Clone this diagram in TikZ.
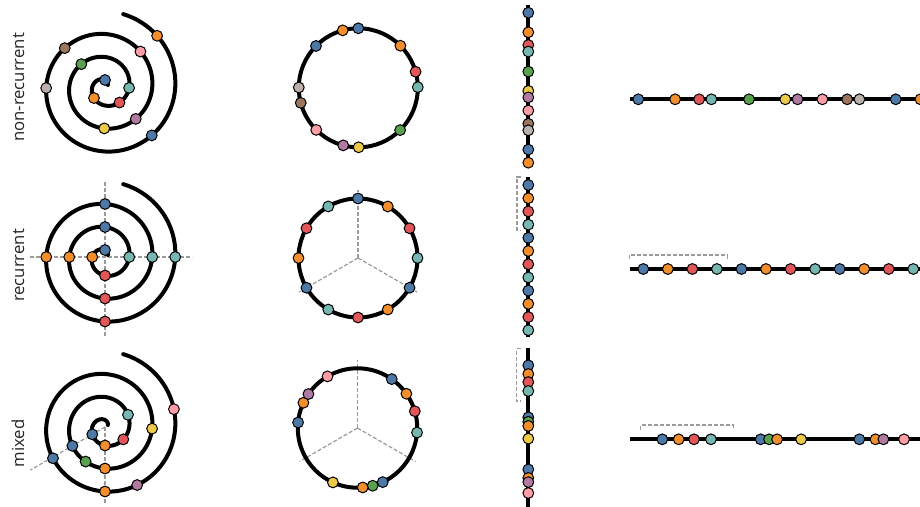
\documentclass[tikz,border=0pt]{standalone}
\usepackage{fontspec}
\setmainfont{Open Sans}
\definecolor{cbl}{HTML}{4E79A7}
\definecolor{cor}{HTML}{F28E2B}
\definecolor{cre}{HTML}{E15759}
\definecolor{cte}{HTML}{76B7B2}
\definecolor{cgr}{HTML}{59A14F}
\definecolor{cye}{HTML}{EDC948}
\definecolor{cpu}{HTML}{B07AA1}
\definecolor{cpi}{HTML}{FF9DA7}
\definecolor{cbr}{HTML}{9C755F}
\definecolor{cgy}{HTML}{BAB0AC}
\definecolor{guidegray}{HTML}{9A9A9A}
\begin{document}
\begin{tikzpicture}[x=1pt,y=-1pt,
  dotn/.style={circle, draw=black, line width=1pt, inner sep=0pt, minimum size=10.8pt},
  heavy/.style={line width=4pt, black},
  guide/.style={guidegray, line width=1.2pt, dash pattern=on 4pt off 2pt},
  lab/.style={rotate=90, anchor=base, font=\fontsize{16.7}{20}\selectfont, text=black!85}]
\useasboundingbox (0,0) rectangle (920,506);

% labels
\node[lab] (lab1) at (24,87.5) {non-recurrent};
\node[lab] (lab2) at (24,265.5) {recurrent};
\node[lab] (lab3) at (24,443.5) {mixed};

% guides
\draw[guide] (105,182) -- (105,337);
\draw[guide] (30,257) -- (192,257);
\draw[guide] (105,427) -- (105,504);
\draw[guide] (105,427) -- (30.5,470);
\draw[guide] (358,258) -- (358,190);
\draw[guide] (358,258) -- (299.1,292);
\draw[guide] (358,258) -- (416.9,292);
\draw[guide] (357.5,428) -- (357.5,360);
\draw[guide] (357.5,428) -- (299.5,461.5);
\draw[guide] (357.5,428) -- (415.5,461.5);
% brackets
\draw[guide] (520.7,177) -- (517,177) -- (517,230.7) -- (520.7,230.7);
\draw[guide] (629.3,259) -- (629.3,255) -- (727.3,255) -- (727.3,259);
\draw[guide] (520.7,348.7) -- (516.7,348.7) -- (516.7,401) -- (520.7,401);
\draw[guide] (640.7,429.7) -- (640.7,425) -- (733.3,425) -- (733.3,429.7);

% spirals
\foreach \cy in {87,257,427}{
  \draw[heavy, line cap=round] plot[domain=35:1156, samples=400, smooth]
    ({105+(7+0.0638889*(\x-90))*cos(\x)}, {\cy-(7+0.0638889*(\x-90))*sin(\x)});
}
% circles
\draw[heavy] (358.3,87.8) circle[radius=59.5pt];
\draw[heavy] (358,258) circle[radius=59.5pt];
\draw[heavy] (357.5,428) circle[radius=59.7pt];
% vertical lines
\draw[heavy] (528.3,5) -- (528.3,165);
\draw[heavy] (528.3,177) -- (528.3,337);
\draw[heavy] (528.3,348) -- (528.3,510);
% horizontal lines
\draw[heavy] (630,99.3) -- (925,99.3);
\draw[heavy] (630,269) -- (925,269);
\draw[heavy] (630,439.3) -- (925,439.3);

% row 1: non-recurrent
\foreach \t/\c [count=\i] in {90/cbl,225/cor,313/cre,358/cte,496/cgr,629/cye,674/cpu,765/cpi,856/cbr,901/cgy,1034/cbl,1124.5/cor}{
  \pgfmathsetmacro\rr{7+0.0638889*(\t-90)}
  \pgfmathsetmacro\pp{120-\t/3}
  \node[dotn, fill=\c] (s1-\i) at ({105+\rr*cos(\t)}, {87-\rr*sin(\t)}) {};
  \node[dotn, fill=\c] (c1-\i) at ({358.3+59.5*cos(\pp)}, {87.8-59.5*sin(\pp)}) {};
  \node[dotn, fill=\c] (v1-\i) at (528.3, {12.7+0.145*(\t-90)}) {};
  \node[dotn, fill=\c] (h1-\i) at ({638.3+0.2727*(\t-90)}, 99.3) {};
}
% row 2: recurrent
\foreach \t/\c [count=\i] in {90/cbl,180/cor,270/cre,360/cte,450/cbl,540/cor,630/cre,720/cte,810/cbl,900/cor,990/cre,1080/cte}{
  \pgfmathsetmacro\rr{7+0.0638889*(\t-90)}
  \pgfmathsetmacro\pp{120-\t/3}
  \node[dotn, fill=\c] (s2-\i) at ({105+\rr*cos(\t)}, {257-\rr*sin(\t)}) {};
  \node[dotn, fill=\c] (c2-\i) at ({358+59.5*cos(\pp)}, {258-59.5*sin(\pp)}) {};
  \node[dotn, fill=\c] (v2-\i) at (528.3, {185+0.1467*(\t-90)}) {};
  \node[dotn, fill=\c] (h2-\i) at ({643.3+0.2727*(\t-90)}, 269) {};
}
% row 3: mixed
\foreach \t/\c [count=\i] in {210/cbl,270/cor,326/cre,388/cte,570/cbl,600.7/cgr,630/cor,718/cye,931/cbl,990/cor,1019/cpu,1094.5/cpi}{
  \pgfmathsetmacro\rr{7+0.0638889*(\t-90)}
  \pgfmathsetmacro\pp{125-\t/3}
  \node[dotn, fill=\c] (s3-\i) at ({105+\rr*cos(\t)}, {427-\rr*sin(\t)}) {};
  \node[dotn, fill=\c] (c3-\i) at ({357.5+59.7*cos(\pp)}, {428-59.7*sin(\pp)}) {};
  \node[dotn, fill=\c] (v3-\i) at (528.3, {365.3+0.1444*(\t-210)}) {};
  \node[dotn, fill=\c] (h3-\i) at ({662.3+0.2733*(\t-210)}, 439.3) {};
}
\end{tikzpicture}
\end{document}
